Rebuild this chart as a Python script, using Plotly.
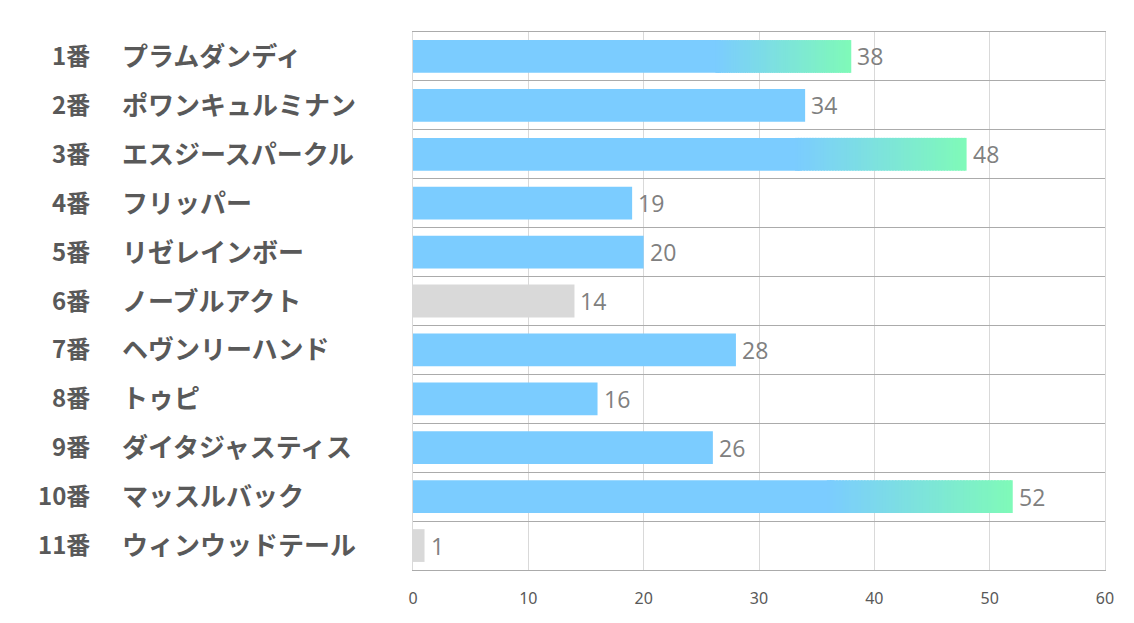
import plotly.graph_objects as go

# ---- data ----
numbers = ["1番", "2番", "3番", "4番", "5番", "6番", "7番", "8番", "9番", "10番", "11番"]
names = ["プラムダンディ", "ポワンキュルミナン", "エスジースパークル", "フリッパー", "リゼレインボー",
         "ノーブルアクト", "ヘヴンリーハンド", "トゥピ", "ダイタジャスティス", "マッスルバック", "ウィンウッドテール"]
values = [38, 34, 48, 19, 20, 14, 28, 16, 26, 52, 1]
gray_rows = [5, 10]          # indexes drawn in gray
gradient_rows = [0, 2, 9]    # indexes drawn with a blue->green gradient
x_ticks = [0, 10, 20, 30, 40, 50, 60]

BLUE = (123, 204, 255)
GREEN = (127, 250, 184)
GRAY = "#D9D9D9"
GRAD_START = 0.69   # fraction of bar where the gradient begins
N_SEG = 60


def rgb(c):
    return "rgb(%d,%d,%d)" % tuple(int(round(v)) for v in c)


rows = list(range(len(values)))

# base bars
base_x, base_col = [], []
for i, v in enumerate(values):
    if i in gradient_rows:
        base_x.append(v * GRAD_START + 2 * v * (1 - GRAD_START) / N_SEG)
    else:
        base_x.append(v)
    base_col.append(GRAY if i in gray_rows else rgb(BLUE))

fig = go.Figure()
fig.add_trace(go.Bar(
    y=rows, x=base_x, orientation="h", width=0.67,
    marker=dict(color=base_col, line=dict(width=0)),
    hoverinfo="skip", showlegend=False,
))

# gradient segments
gy, gx, gb, gc = [], [], [], []
for i in gradient_rows:
    v = values[i]
    start = v * GRAD_START
    d = (v - start) / N_SEG
    for k in range(N_SEG):
        t = (k + 0.5) / N_SEG
        col = tuple(BLUE[j] + (GREEN[j] - BLUE[j]) * t for j in range(3))
        gy.append(i)
        gb.append(start + k * d)
        gx.append(d * (1.0 if k == N_SEG - 1 else 1.5))
        gc.append(rgb(col))
fig.add_trace(go.Bar(
    y=gy, x=gx, base=gb, orientation="h", width=0.67,
    marker=dict(color=gc, line=dict(width=0)),
    hoverinfo="skip", showlegend=False,
))

annotations = []
num_font = dict(family="Noto Sans CJK JP", size=24, color="#595959")
name_font = dict(family="Noto Sans CJK JP", size=26, color="#595959")
for i in rows:
    annotations.append(dict(
        x=-0.4639, y=i, xref="paper", yref="y", text="<b>%s</b>" % numbers[i],
        xanchor="right", yanchor="middle", yshift=2, showarrow=False, font=num_font))
    annotations.append(dict(
        x=-0.4234, y=i, xref="paper", yref="y", text="<b>%s</b>" % names[i],
        xanchor="left", yanchor="middle", yshift=2, showarrow=False, font=name_font))
    annotations.append(dict(
        x=values[i], y=i, xref="x", yref="y", text=str(values[i]),
        xanchor="left", yanchor="middle", xshift=4, showarrow=False,
        font=dict(family="Open Sans", size=23, color="#808080")))

# the page body has an 8px default margin, so shrink the figure accordingly
fig.update_layout(
    width=1126, height=615,
    margin=dict(l=405, r=29, t=24, b=53),
    paper_bgcolor="white", plot_bgcolor="white",
    barmode="overlay",
    annotations=annotations,
    xaxis=dict(
        range=[0, 60], tickvals=x_ticks, showgrid=True, gridcolor="#D9D9D9", gridwidth=1,
        zeroline=False, showline=True, linecolor="#ABABAB", linewidth=1, mirror=True,
        ticks="", ticklabelstandoff=14,
        tickfont=dict(family="Noto Sans", size=16, color="#595959"),
    ),
    yaxis=dict(
        range=[10.5, -0.5], tickvals=[r - 0.5 for r in rows] + [len(rows) - 0.5],
        showticklabels=False, showgrid=True, gridcolor="#ABABAB", gridwidth=1,
        zeroline=False, showline=True, linecolor="#D9D9D9", linewidth=1, mirror=True,
        ticks="",
    ),
)

fig.write_html("out.html")
